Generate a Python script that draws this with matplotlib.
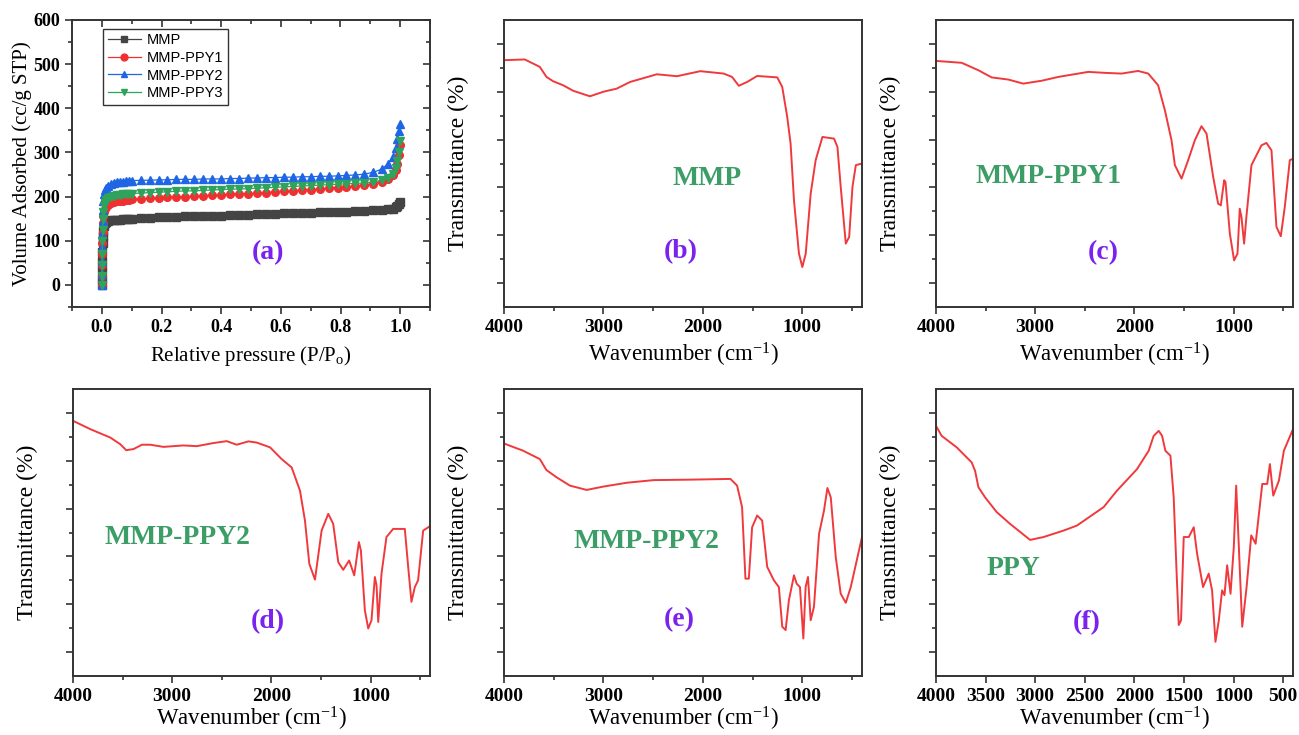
import numpy as np
import matplotlib.pyplot as plt
from matplotlib.ticker import MultipleLocator, FixedLocator

plt.rcParams['font.family'] = ['Liberation Serif', 'DejaVu Serif']
plt.rcParams['mathtext.fontset'] = 'custom'
plt.rcParams['mathtext.rm'] = 'Liberation Serif'
plt.rcParams['mathtext.it'] = 'Liberation Serif:italic'

# ---------------- (a) N2 isotherms ----------------
p_rel = [0.000, 0.0005, 0.001, 0.0015, 0.002, 0.003, 0.004, 0.005, 0.007, 0.010,
         0.015, 0.02, 0.03, 0.04, 0.05, 0.06, 0.07, 0.08, 0.09, 0.10,
         0.13, 0.16, 0.19, 0.22, 0.25, 0.28, 0.31, 0.34, 0.37, 0.40,
         0.43, 0.46, 0.49, 0.52, 0.55, 0.58, 0.61, 0.64, 0.67, 0.70,
         0.73, 0.76, 0.79, 0.82, 0.85, 0.88, 0.91, 0.94, 0.96, 0.975,
         0.985, 0.99, 0.995, 1.0]
v_mmp = [0, 15, 35, 55, 75, 95, 110, 122, 133, 140,
         143, 145, 146, 147, 148, 148, 149, 149, 150, 150,
         151, 152, 153, 153, 154, 155, 155, 156, 157, 157,
         158, 159, 159, 160, 161, 161, 162, 163, 163, 164,
         165, 165, 166, 166, 167, 168, 169, 170, 171, 173,
         176, 179, 183, 188]
v_ppy1 = [0, 20, 45, 70, 95, 120, 140, 155, 165, 172,
          177, 181, 185, 187, 189, 190, 191, 192, 193, 194,
          195, 196, 197, 198, 199, 200, 201, 202, 203, 204,
          205, 206, 207, 208, 209, 211, 212, 213, 215, 216,
          217, 219, 220, 222, 224, 226, 229, 234, 240, 248,
          260, 275, 295, 318]
v_ppy2 = [0, 25, 55, 85, 115, 145, 170, 190, 205, 214,
          220, 224, 228, 230, 232, 233, 234, 235, 235, 236,
          237, 237, 238, 238, 239, 239, 239, 240, 240, 240,
          241, 241, 242, 242, 243, 243, 244, 244, 245, 245,
          246, 246, 247, 248, 249, 251, 255, 263, 275, 290,
          310, 330, 348, 365]
v_ppy3 = [0, 20, 45, 70, 100, 125, 150, 165, 178, 186,
          192, 196, 199, 201, 203, 204, 205, 206, 207, 207,
          208, 209, 210, 211, 212, 213, 213, 214, 215, 216,
          217, 217, 218, 219, 220, 221, 222, 223, 224, 225,
          226, 227, 228, 229, 230, 231, 233, 237, 243, 252,
          265, 280, 300, 325]
iso_names = ['MMP', 'MMP-PPY1', 'MMP-PPY2', 'MMP-PPY3']

# ---------------- FTIR spectra (arbitrary transmittance units) ----------------
wn_b = [4000, 3791, 3640, 3573, 3506, 3405, 3304, 3136, 3001, 2867, 2732, 2463, 2261,
        2026, 1791, 1707, 1639, 1555, 1454, 1252, 1202, 1152, 1118, 1084, 1034, 1000,
        966, 916, 866, 798, 681, 647, 614, 563, 529, 496, 462, 400]
tr_b = [10.32, 10.35, 10.04, 9.62, 9.44, 9.27, 9.04, 8.81, 9.0, 9.13, 9.41, 9.73, 9.65,
        9.86, 9.76, 9.62, 9.25, 9.41, 9.66, 9.6, 9.2, 7.95, 6.83, 4.46, 2.23, 1.67,
        2.23, 4.74, 6.14, 7.11, 7.04, 6.69, 5.02, 2.65, 2.93, 5.02, 5.93, 6.0]

wn_c = [4000, 3741, 3573, 3439, 3271, 3120, 2935, 2767, 2465, 2297, 2129, 1961, 1860,
        1760, 1692, 1625, 1591, 1524, 1457, 1390, 1323, 1272, 1205, 1155, 1128, 1094,
        1081, 1037, 994, 960, 937, 920, 893, 870, 819, 718, 668, 617, 567, 523, 483,
        432, 400]
tr_c = [10.29, 10.21, 9.9, 9.6, 9.51, 9.34, 9.46, 9.62, 9.83, 9.79, 9.76, 9.87, 9.76,
        9.27, 8.23, 6.97, 5.93, 5.37, 6.14, 6.97, 7.56, 7.25, 5.44, 4.32, 4.25, 5.3,
        5.23, 3.07, 1.95, 2.23, 4.11, 3.77, 2.65, 3.77, 5.93, 6.76, 6.86, 6.55, 3.35,
        2.96, 4.18, 6.14, 6.2]

wn_d = [4000, 3825, 3624, 3523, 3463, 3389, 3305, 3221, 3087, 2886, 2752, 2584, 2450,
        2349, 2231, 2147, 2013, 1896, 1795, 1711, 1661, 1617, 1560, 1493, 1426, 1376,
        1325, 1275, 1215, 1164, 1117, 1097, 1057, 1023, 990, 956, 939, 922, 889, 839,
        772, 654, 620, 587, 553, 520, 469, 402]
tr_d = [10.67, 10.32, 9.97, 9.69, 9.44, 9.49, 9.67, 9.67, 9.58, 9.64, 9.61, 9.74, 9.82,
        9.67, 9.81, 9.76, 9.56, 9.07, 8.72, 7.75, 6.5, 4.69, 4.03, 6.08, 6.78, 6.36,
        4.76, 4.44, 4.83, 4.21, 5.6, 5.25, 2.75, 1.99, 2.33, 4.14, 3.79, 2.26, 4.28, 5.81,
        6.15, 6.15, 4.56, 3.1, 3.72, 4.0, 6.08, 6.26]

wn_e = [4000, 3808, 3640, 3573, 3472, 3337, 3169, 3001, 2766, 2497, 2127, 1723, 1656,
        1606, 1572, 1538, 1505, 1454, 1404, 1353, 1286, 1236, 1202, 1168, 1135, 1084,
        1057, 1024, 990, 967, 943, 916, 883, 832, 782, 748, 714, 664, 614, 563, 513, 400]
tr_e = [9.72, 9.42, 9.07, 8.61, 8.31, 7.96, 7.78, 7.92, 8.08, 8.19, 8.21, 8.24, 7.96,
        7.06, 4.07, 4.07, 6.22, 6.71, 6.5, 4.56, 4.0, 3.72, 2.06, 1.92, 3.17, 4.21,
        3.86, 3.72, 1.57, 3.72, 4.14, 2.33, 2.89, 5.94, 6.92, 7.86, 7.47, 4.97, 3.44,
        3.06, 3.72, 5.81]

wn_f = [4000, 3943, 3791, 3640, 3606, 3572, 3505, 3387, 3253, 3051, 2916, 2714, 2579,
        2310, 2175, 1973, 1855, 1805, 1754, 1720, 1687, 1636, 1603, 1576, 1552, 1529,
        1502, 1451, 1401, 1367, 1307, 1250, 1216, 1182, 1148, 1115, 1091, 1064, 1030,
        997, 973, 946, 912, 868, 821, 777, 710, 660, 633, 599, 542, 492, 400]
tr_f = [10.46, 10.04, 9.56, 8.93, 8.58, 7.89, 7.47, 6.85, 6.36, 5.69, 5.81, 6.08, 6.29,
        7.06, 7.75, 8.65, 9.42, 10.04, 10.25, 10.04, 9.42, 9.21, 7.47, 4.56, 2.13, 2.33,
        5.81, 5.81, 6.22, 5.11, 3.72, 4.28, 3.58, 1.43, 2.33, 3.58, 3.38, 4.63, 3.44,
        5.39, 7.96, 5.39, 2.06, 3.72, 5.88, 5.53, 8.03, 8.03, 8.86, 7.54, 8.17, 9.42, 10.32]

spectra = [
    (wn_b, tr_b, 'MMP', '(b)', (0.567, 0.446), (0.494, 0.192)),
    (wn_c, tr_c, 'MMP-PPY1', '(c)', (0.314, 0.456), (0.468, 0.188)),
    (wn_d, tr_d, 'MMP-PPY2', '(d)', (0.294, 0.484), (0.546, 0.188)),
    (wn_e, tr_e, 'MMP-PPY2', '(e)', (0.397, 0.467), (0.489, 0.195)),
    (wn_f, tr_f, 'PPY', '(f)', (0.216, 0.376), (0.423, 0.185)),
]

W, H = 1299, 735
fig = plt.figure(figsize=(W / 100, H / 100), dpi=100)


def px_axes(l, t, r, b):
    return fig.add_axes([l / W, (H - b) / H, (r - l) / W, (b - t) / H])


spine_c = '#333333'
green_txt = '#3c9e66'
purple_txt = '#7a22ee'
red_line = '#f0393c'


def style_spines(ax):
    for s in ax.spines.values():
        s.set_color(spine_c)
        s.set_linewidth(1.4)


# panel (a)
ax = px_axes(72, 20, 430, 307)
style_spines(ax)
colors = ['#444444', '#f03030', '#1f66e5', '#2ea35c']
markers = ['s', 'o', '^', 'v']
for v, name, c, m in zip([v_mmp, v_ppy1, v_ppy2, v_ppy3], iso_names, colors, markers):
    ax.plot(p_rel, v, color=c, lw=0.9, marker=m, ms=5.5, mec=c, mfc=c, label=name)
ax.set_xlim(-0.1, 1.1)
ax.set_ylim(-50, 600)
ax.xaxis.set_minor_locator(MultipleLocator(0.1))
ax.yaxis.set_minor_locator(MultipleLocator(50))
ax.set_xticks([0.0, 0.2, 0.4, 0.6, 0.8, 1.0])
ax.set_xticklabels(['0.0', '0.2', '0.4', '0.6', '0.8', '1.0'])
ax.set_yticks([0, 100, 200, 300, 400, 500, 600])
ax.tick_params(which='both', direction='out', top=False, right=False, colors=spine_c,
               width=1.2, labelcolor='black', labelsize=13)
ax.tick_params(which='major', length=5)
ax.tick_params(which='minor', length=3)
sec_x = ax.secondary_xaxis('top')
sec_x.set_xticks([0.0, 0.2, 0.4, 0.6, 0.8, 1.0])
sec_x.xaxis.set_minor_locator(MultipleLocator(0.1))
sec_x.tick_params(which='both', direction='in', labeltop=False, colors=spine_c, width=1.2)
sec_x.tick_params(which='major', length=5)
sec_x.tick_params(which='minor', length=3)
sec_x.spines['top'].set_visible(False)
sec_y = ax.secondary_yaxis('right')
sec_y.set_yticks([0, 100, 200, 300, 400, 500, 600])
sec_y.yaxis.set_minor_locator(MultipleLocator(50))
sec_y.tick_params(which='both', direction='in', labelright=False, colors=spine_c, width=1.2)
sec_y.tick_params(which='major', length=5)
sec_y.tick_params(which='minor', length=3)
sec_y.spines['right'].set_visible(False)
for lab in ax.get_xticklabels() + ax.get_yticklabels():
    lab.set_fontweight('bold')
ax.set_xlabel('Relative pressure (P/P$_\\mathrm{o}$)', fontsize=15, labelpad=6)
ax.set_ylabel('Volume Adsorbed (cc/g STP)', fontsize=15, labelpad=1)
leg = ax.legend(loc='upper left', bbox_to_anchor=(0.087, 0.969), borderaxespad=0,
                fancybox=False, framealpha=1, edgecolor='#333333',
                prop={'family': 'Liberation Sans', 'size': 10.5},
                handlelength=2.3, labelspacing=0.25, handletextpad=0.4,
                borderpad=0.3, markerscale=0.9)
leg.get_frame().set_linewidth(1.0)
ax.text(0.547, 0.188, '(a)', transform=ax.transAxes, ha='center', va='center',
        fontsize=20, fontweight='bold', color=purple_txt)

# spectra panels
boxes = [(504, 20, 862, 307), (936, 20, 1293, 307),
         (73, 389, 430, 676), (504, 389, 862, 676), (936, 389, 1293, 676)]
for (wn, tr, name, tag, name_pos, tag_pos), box in zip(spectra, boxes):
    ax = px_axes(*box)
    style_spines(ax)
    ax.plot(wn, tr, color=red_line, lw=1.4)
    ax.set_xlim(4000, 400)
    ax.set_ylim(0, 12)
    if tag == '(f)':
        ax.set_xticks([4000, 3500, 3000, 2500, 2000, 1500, 1000, 500])
    else:
        ax.set_xticks([4000, 3000, 2000, 1000])
        ax.xaxis.set_minor_locator(FixedLocator([3500, 2500, 1500, 500]))
    ax.yaxis.set_major_locator(FixedLocator([1, 3, 5, 7, 9, 11]))
    ax.yaxis.set_minor_locator(FixedLocator([2, 4, 6, 8, 10]))
    ax.tick_params(which='both', direction='out', colors=spine_c, width=1.2,
                   labelcolor='black', labelsize=14, labelleft=False)
    ax.tick_params(which='major', length=5)
    ax.tick_params(which='minor', length=3)
    for lab in ax.get_xticklabels():
        lab.set_fontweight('bold')
    bottom_row = box[1] > 300
    ax.set_xlabel('Wavenumber (cm$^{-1}$)', fontsize=16.5,
                  labelpad=0 if bottom_row else 4)
    ax.set_ylabel('Transmittance (%)', fontsize=17, labelpad=20)
    ax.text(name_pos[0], name_pos[1], name, transform=ax.transAxes, ha='center',
            va='center', fontsize=20, fontweight='bold', color=green_txt)
    ax.text(tag_pos[0], tag_pos[1], tag, transform=ax.transAxes, ha='center',
            va='center', fontsize=20, fontweight='bold', color=purple_txt)

fig.savefig('out.png', dpi=100)
